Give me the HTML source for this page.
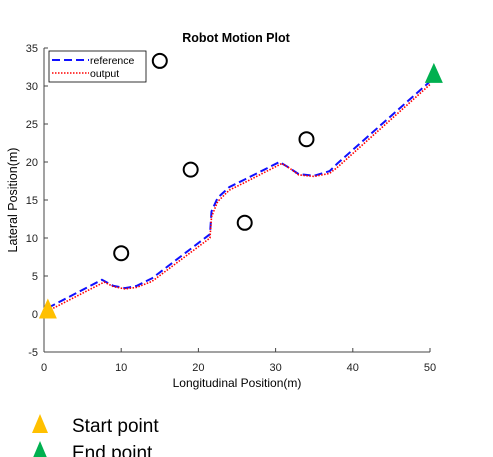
<!DOCTYPE html>
<html><head><meta charset="utf-8"><style>
html,body{margin:0;padding:0;background:#fff;width:493px;height:457px;overflow:hidden}
text{font-family:"Liberation Sans",Arial,sans-serif}
</style></head><body>
<svg id="chart" width="493" height="457" viewBox="0 0 493 457">
<text x="236" y="42" text-anchor="middle" font-size="12.5" font-weight="bold">Robot Motion Plot</text>
<g id="axes"></g>
<g id="marks"></g>
<g>
<rect x="49" y="51" width="97" height="31" fill="#fff" stroke="#000" stroke-width="0.8"/>
<line x1="52" y1="60" x2="89" y2="60" stroke="#1010ff" stroke-width="2" stroke-dasharray="8,4"/>
<text x="90" y="64" font-size="10.5">reference</text>
<line x1="52" y1="73" x2="89" y2="73" stroke="#ff0000" stroke-width="1.6" stroke-dasharray="1.5,1.5"/>
<text x="90" y="77" font-size="10.5">output</text>
</g>
<polygon points="40,414 32,433 48,433" fill="#ffc000"/>
<text x="72" y="432" font-size="19">Start point</text>
<polygon points="40,441 32,460 48,460" fill="#00b050"/>
<text x="72" y="459" font-size="19">End point</text>
</svg>
<script>
const xTicks=[0,10,20,30,40,50];
const yTicks=[-5,0,5,10,15,20,25,30,35];
const refX=[0.5,7.5,9,10.5,12,14,21.5,21.7,22.5,24,26,30.5,31.5,33,35,37,38,50];
const refY=[0.8,4.5,3.7,3.4,3.7,4.7,10.5,13.5,15.3,16.7,17.7,20,19.4,18.4,18.2,18.8,19.8,30.6];
const outX=[0.5,7.8,9,10.5,12,14,21.5,21.7,22.5,24,26,30.8,31.8,33,35,37,38,50];
const outY=[0.4,4.2,3.6,3.3,3.5,4.3,10,12.8,14.8,16.3,17.3,19.8,19.2,18.3,18.1,18.5,19.3,30.2];
const obsX=[10,15,19,26,34];
const obsY=[8,33.3,19,12,23];
const startPt=[0.5,0.6];
const endPt=[50.5,31.6];
const NS='http://www.w3.org/2000/svg';
function sx(v){return 44+v*7.72;}
function sy(v){return 314-v*7.6;}
function mk(t,a,p){const e=document.createElementNS(NS,t);for(const k in a)e.setAttribute(k,a[k]);p.appendChild(e);return e;}
const ax=document.getElementById('axes'),mg=document.getElementById('marks');
let l=mk('line',{x1:44,y1:sy(-5),x2:sx(50),y2:sy(-5),stroke:'#444','stroke-width':1},ax);


l=mk('line',{x1:44,y1:sy(-5),x2:44,y2:sy(35),stroke:'#444','stroke-width':1},ax);


xTicks.forEach(v=>{mk('line',{x1:sx(v),x2:sx(v),y1:sy(-5),y2:sy(-5)-4,stroke:'#444'},ax);
const t=mk('text',{x:sx(v),y:371,'text-anchor':'middle','font-size':11,fill:'#222'},ax);t.textContent=v;

});
yTicks.forEach(v=>{mk('line',{x1:44,x2:48,y1:sy(v),y2:sy(v),stroke:'#444'},ax);
const t=mk('text',{x:38,y:sy(v)+4,'text-anchor':'end','font-size':11,fill:'#222'},ax);t.textContent=v;

});
let t=mk('text',{x:237,y:387,'text-anchor':'middle','font-size':12},ax);t.textContent='Longitudinal Position(m)';


t=mk('text',{x:0,y:0,'text-anchor':'middle','font-size':12.5,transform:'translate(17,200) rotate(-90)'},ax);t.textContent='Lateral Position(m)';


let p=mk('polyline',{points:refX.map((x,i)=>sx(x)+','+sy(refY[i])).join(' '),fill:'none',stroke:'#1010ff','stroke-width':2,'stroke-dasharray':'8,4'},mg);


p=mk('polyline',{points:outX.map((x,i)=>sx(x)+','+sy(outY[i])).join(' '),fill:'none',stroke:'#ff0000','stroke-width':1.6,'stroke-dasharray':'1.5,1.5'},mg);


obsX.forEach((x,i)=>{const c=mk('circle',{cx:sx(x),cy:sy(obsY[i]),r:7,fill:'none',stroke:'#000','stroke-width':2},mg);

});
function tri(pt,col,name){const x=sx(pt[0]),y=sy(pt[1]);const e=mk('polygon',{points:`${x},${y-11} ${x-9},${y+9} ${x+9},${y+9}`,fill:col},mg);

}
tri(startPt,'#ffc000','start-marker');
tri(endPt,'#00b050','end-marker');
</script>
</body></html>
